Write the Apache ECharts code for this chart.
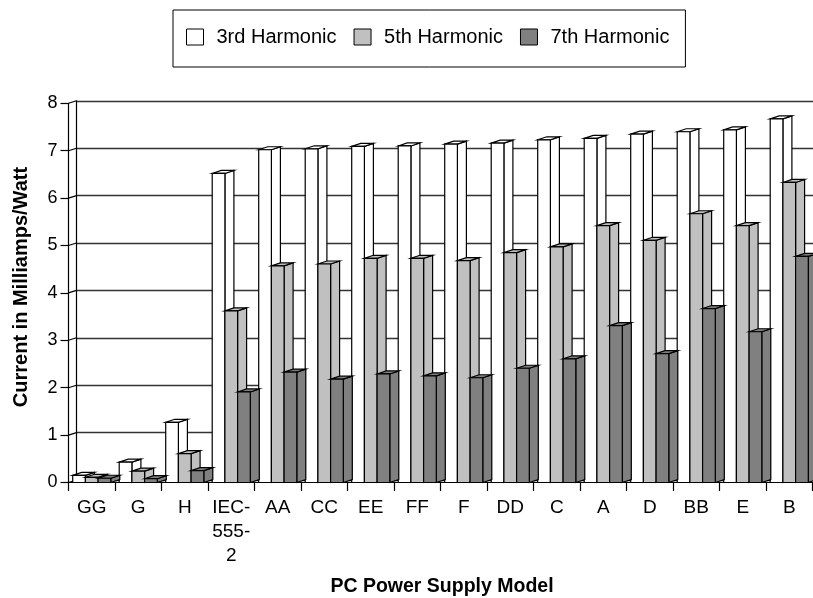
<!DOCTYPE html>
<html>
<head>
<meta charset="utf-8">
<script src="https://cdn.jsdelivr.net/npm/echarts@6/dist/echarts.min.js"></script>
<style>
  html, body { margin: 0; padding: 0; background: #fff; }
  #chart { width: 813px; height: 598px; }
</style>
</head>
<body>
<div id="chart"></div>
<script>
// Harmonic current per watt for each PC power supply model
const categories = ['GG', 'G', 'H', 'IEC-555-2', 'AA', 'CC', 'EE', 'FF', 'F', 'DD', 'C', 'A', 'D', 'BB', 'E', 'B'];
const harmonic3 = [0.15, 0.43, 1.27, 6.52, 7.02, 7.04, 7.09, 7.10, 7.14, 7.16, 7.23, 7.26, 7.35, 7.40, 7.44, 7.67];
const harmonic5 = [0.11, 0.24, 0.61, 3.62, 4.57, 4.61, 4.73, 4.73, 4.68, 4.85, 4.97, 5.42, 5.11, 5.67, 5.42, 6.33];
const harmonic7 = [0.09, 0.08, 0.25, 1.91, 2.33, 2.18, 2.29, 2.25, 2.21, 2.41, 2.61, 3.31, 2.72, 3.67, 3.18, 4.77];
const seriesNames = ['3rd Harmonic', '5th Harmonic', '7th Harmonic'];
const yTickValues = [0, 1, 2, 3, 4, 5, 6, 7, 8];

const FONT = '"Liberation Sans", Arial, sans-serif';
const fills = ['#ffffff', '#c0c0c0', '#808080'];

// pseudo-3D depth of each column and of the back wall
const BAR_DX = 9, BAR_DY = 3;
const WALL_DX = 8, WALL_DY = 2.5;
const BAR_FRAC = 0.273;

const chart = echarts.init(document.getElementById('chart'), null, { renderer: 'canvas' });

function column3d(slot, fill) {
  return function (params, api) {
    const c = api.value(0);
    const v = api.value(1);
    const base = api.coord([c, 0]);
    const top = api.coord([c, v]);
    const band = api.size([1, 0])[0];
    const w = band * BAR_FRAC;
    const x0 = base[0] - 1.5 * w + slot * w;
    const x1 = x0 + w;
    const yb = base[1];
    const yt = top[1];
    const style = { fill: fill, stroke: '#000', lineWidth: 1.2, lineJoin: 'miter' };
    return {
      type: 'group',
      children: [
        { type: 'polygon', shape: { points: [[x1, yb], [x1, yt], [x1 + BAR_DX, yt - BAR_DY], [x1 + BAR_DX, yb - BAR_DY]] }, style: style },
        { type: 'polygon', shape: { points: [[x0, yt], [x0 + BAR_DX, yt - BAR_DY], [x1 + BAR_DX, yt - BAR_DY], [x1, yt]] }, style: style },
        { type: 'rect', shape: { x: x0, y: yt, width: w, height: yb - yt }, style: style }
      ]
    };
  };
}

// short diagonal lines on the side wall joining the front axis to the back wall
function sideWallTicks(params, api) {
  const v = api.value(0);
  const p = api.coord([0, v]);
  const band = api.size([1, 0])[0];
  const x = p[0] - band / 2;
  return {
    type: 'line',
    shape: { x1: x, y1: p[1], x2: x + WALL_DX, y2: p[1] - WALL_DY },
    style: { stroke: '#000', lineWidth: 1.2 }
  };
}

const valueSets = [harmonic3, harmonic5, harmonic7];

const columnSeries = valueSets.map((vals, k) => ({
  name: seriesNames[k],
  type: 'custom',
  xAxisIndex: 0,
  yAxisIndex: 0,
  renderItem: column3d(k, fills[k]),
  itemStyle: { color: fills[k], borderColor: '#000', borderWidth: 1 },
  encode: { x: 0, y: 1 },
  data: vals.map((v, i) => [i, v]),
  z: 5 + k
}));

const option = {
  animation: false,
  backgroundColor: '#ffffff',
  textStyle: { fontFamily: FONT },
  legend: {
    left: 173,
    top: 10,
    orient: 'horizontal',
    padding: [17, 16, 20, 13],
    itemGap: 17,
    itemWidth: 17,
    itemHeight: 16,
    borderColor: '#000',
    borderWidth: 1,
    icon: 'rect',
    itemStyle: { borderColor: '#000', borderWidth: 1 },
    textStyle: { fontFamily: FONT, fontSize: 20, color: '#000', padding: [0, 0, 0, 8], lineHeight: 16 },
    data: seriesNames.map((n, k) => ({ name: n, icon: 'rect', itemStyle: { color: fills[k], borderColor: '#000', borderWidth: 1 } }))
  },
  grid: [
    // front plane: axes, labels and columns
    { left: 68.5, right: 0.5, top: 103.3, bottom: 115.5, containLabel: false },
    // back wall carrying the gridlines
    { left: 68.5 + WALL_DX, right: 0.5 - WALL_DX, top: 103.3 - WALL_DY, bottom: 115.5 + WALL_DY, containLabel: false }
  ],
  xAxis: [
    {
      type: 'category',
      gridIndex: 0,
      data: categories,
      boundaryGap: true,
      axisLine: { show: true, lineStyle: { color: '#000', width: 1.2 } },
      axisTick: { show: true, length: 8.5, interval: 0, lineStyle: { color: '#000', width: 1.2 } },
      axisLabel: {
        interval: 0,
        margin: 13,
        fontFamily: FONT,
        fontSize: 19,
        color: '#000',
        lineHeight: 24,
        formatter: (v) => v.replace(/-/g, '-\n')
      },
      splitLine: { show: false }
    },
    {
      type: 'category',
      gridIndex: 1,
      data: categories,
      show: false
    }
  ],
  yAxis: [
    {
      type: 'value',
      gridIndex: 0,
      min: 0,
      max: 8,
      interval: 1,
      axisLine: { show: true, lineStyle: { color: '#000', width: 1.2 } },
      axisTick: { show: true, length: 8, lineStyle: { color: '#000', width: 1.2 } },
      axisLabel: { margin: 11, fontFamily: FONT, fontSize: 18, color: '#000' },
      splitLine: { show: false }
    },
    {
      type: 'value',
      gridIndex: 1,
      min: 0,
      max: 8,
      interval: 1,
      axisLine: { show: true, lineStyle: { color: '#000', width: 1.2 } },
      axisTick: { show: false },
      axisLabel: { show: false },
      splitLine: { show: true, lineStyle: { color: '#333', width: 1.4 } }
    }
  ],
  graphic: [
    {
      type: 'text',
      x: 21,
      y: 287,
      rotation: Math.PI / 2,
      style: {
        text: 'Current in Milliamps/Watt',
        font: 'bold 20px ' + FONT,
        fill: '#000',
        align: 'center',
        verticalAlign: 'middle'
      }
    },
    {
      type: 'text',
      x: 442,
      y: 587,
      style: {
        text: 'PC Power Supply Model',
        font: 'bold 19.5px ' + FONT,
        fill: '#000',
        align: 'center',
        verticalAlign: 'middle'
      }
    }
  ],
  series: [
    {
      name: 'side wall',
      type: 'custom',
      xAxisIndex: 0,
      yAxisIndex: 0,
      renderItem: sideWallTicks,
      encode: { y: 0 },
      data: yTickValues.map((v) => [v]),
      silent: true,
      z: 3
    }
  ].concat(columnSeries)
};

chart.setOption(option);
</script>
</body>
</html>
